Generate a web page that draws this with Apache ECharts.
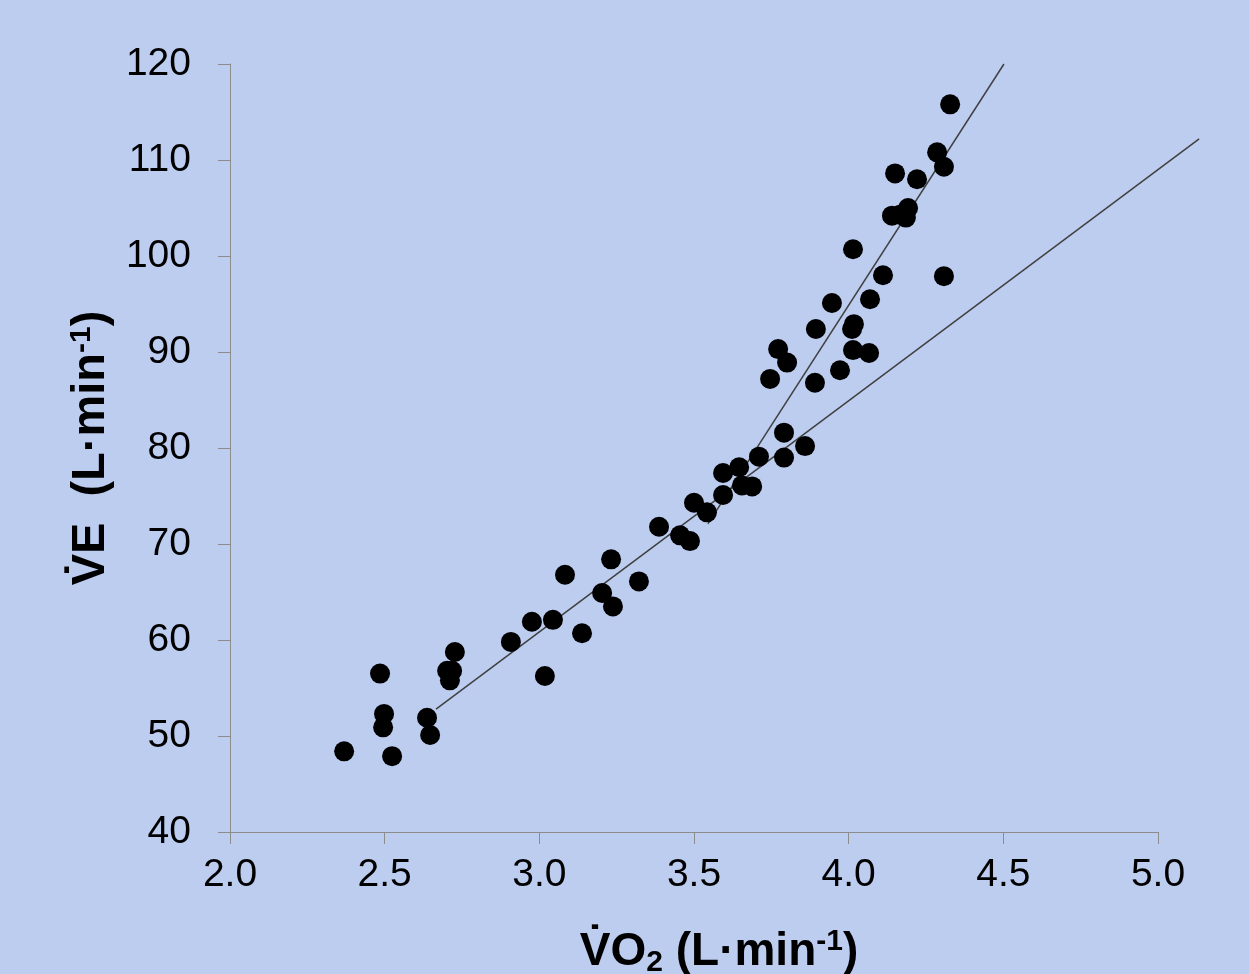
<!DOCTYPE html>
<html>
<head>
<meta charset="utf-8">
<script src="https://cdn.jsdelivr.net/npm/echarts@6/dist/echarts.min.js"></script>
<style>
html,body{margin:0;padding:0;background:#BDCDF0;}
#chart{width:1249px;height:974px;}
</style>
</head>
<body>
<div id="chart"></div>
<script>
// Measured data: VO2 (L/min) vs VE (L/min)
var vo2 = [2.369,2.524,2.485,2.498,2.495,2.637,2.647,2.702,2.718,2.711,2.727,2.908,2.976,3.018,3.044,3.083,3.138,3.203,3.232,3.238,3.322,3.387,3.455,3.487,3.500,3.542,3.594,3.594,3.646,3.655,3.688,3.710,3.746,3.772,3.801,3.791,3.791,3.859,3.891,3.894,3.946,3.972,4.017,4.011,4.014,4.014,4.066,4.069,4.111,4.140,4.166,4.192,4.185,4.150,4.221,4.286,4.308,4.308,4.328];
var ve  = [48.4,47.9,56.5,52.3,50.9,51.9,50.1,56.8,56.8,55.8,58.75,59.8,61.9,56.25,62.1,66.8,60.7,64.9,68.4,63.5,66.1,71.8,70.9,70.3,74.3,73.3,77.4,75.1,78.0,76.1,76.0,79.1,87.2,90.3,88.9,81.6,79.0,80.2,86.8,92.4,95.1,88.1,92.9,92.4,100.7,90.2,89.9,95.5,98.0,104.2,104.3,105.0,104.0,108.6,108.0,110.8,109.3,97.9,115.8];
// Fitted regression segments (endpoints)
var lineLowX = [2.666, 5.133];
var lineLowY = [52.8, 112.2];
var lineHighX = [3.545, 4.502];
var lineHighY = [72.1, 120.0];
var xTicks = {min: 2.0, max: 5.0, interval: 0.5};
var yTicks = {min: 40, max: 120, interval: 10};

var pts = vo2.map(function(v, i){ return [v, ve[i]]; });
var segs = [
  [lineLowX[0], lineLowY[0], lineLowX[1], lineLowY[1]],
  [lineHighX[0], lineHighY[0], lineHighX[1], lineHighY[1]]
];

var chart = echarts.init(document.getElementById('chart'));
var font = '"Liberation Sans", Arial, sans-serif';
var axisGray = '#8c8c8c';
chart.setOption({
  backgroundColor: '#BDCDF0',
  animation: false,
  grid: {left: 230, right: 91, top: 64, bottom: 142, outerBoundsMode: 'none', containLabel: false},
  xAxis: {
    type: 'value',
    min: xTicks.min, max: xTicks.max, interval: xTicks.interval,
    splitLine: {show: false},
    axisLine: {show: true, lineStyle: {color: axisGray, width: 1}},
    axisTick: {show: true, length: 12, lineStyle: {color: axisGray}},
    axisLabel: {
      color: '#000', fontFamily: font, fontSize: 39, margin: 24,
      formatter: function(v){ return v.toFixed(1); }
    },
    name: '{b|V\u0307O}{sub|2}{b| (L\u00B7min}{sup|-1}{b|)}',
    nameLocation: 'middle',
    nameGap: 94,
    nameTextStyle: {
      padding: [0, 0, 0, 50],
      rich: {
        b: {fontFamily: font, fontSize: 46, fontWeight: 'bold', color: '#000'},
        sub: {fontFamily: font, fontSize: 30, fontWeight: 'bold', color: '#000', padding: [22, 0, 0, 0]},
        sup: {fontFamily: font, fontSize: 30, fontWeight: 'bold', color: '#000', padding: [0, 0, 20, 0]}
      }
    }
  },
  yAxis: {
    type: 'value',
    min: yTicks.min, max: yTicks.max, interval: yTicks.interval,
    splitLine: {show: false},
    axisLine: {show: true, lineStyle: {color: axisGray, width: 1}},
    axisTick: {show: true, length: 12, lineStyle: {color: axisGray}},
    axisLabel: {color: '#000', fontFamily: font, fontSize: 39, margin: 39},
    name: '{b|V\u0307E  (L\u00B7min}{sup|-1}{b|)}',
    nameLocation: 'middle',
    nameGap: 112,
    nameTextStyle: {
      rich: {
        b: {fontFamily: font, fontSize: 47, fontWeight: 'bold', color: '#000'},
        sup: {fontFamily: font, fontSize: 30, fontWeight: 'bold', color: '#000', padding: [0, 0, 20, 0]}
      }
    }
  },
  series: [
    {
      type: 'custom', data: segs, clip: false, silent: true, z: 3,
      renderItem: function(params, api){
        var p1 = api.coord([api.value(0), api.value(1)]);
        var p2 = api.coord([api.value(2), api.value(3)]);
        return {
          type: 'line',
          shape: {x1: p1[0], y1: p1[1], x2: p2[0], y2: p2[1]},
          style: {stroke: '#404040', lineWidth: 1.5}
        };
      }
    },
    {
      type: 'scatter', data: pts, symbol: 'circle', symbolSize: 20,
      itemStyle: {color: '#000', opacity: 1}, z: 4
    }
  ]
});
</script>
</body>
</html>
